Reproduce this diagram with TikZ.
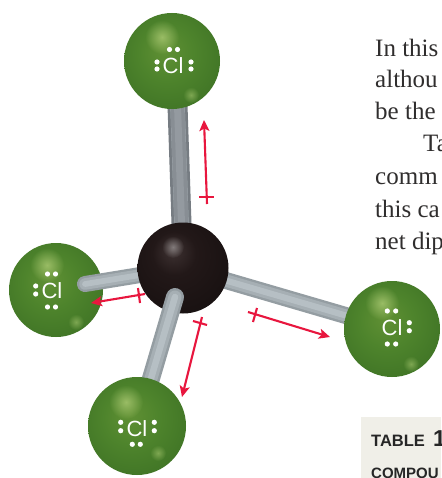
\documentclass[tikz,border=0pt]{standalone}
\usepackage{xcolor}
\usepackage{fontspec}
\setmainfont{Liberation Serif}
\newfontfamily\labelfont{Liberation Sans}
\usetikzlibrary{arrows.meta, calc, fadings}
\definecolor{dipred}{RGB}{232,22,62}
\definecolor{pagetext}{RGB}{48,46,46}
\definecolor{tablebg}{RGB}{240,239,232}
\definecolor{rodedge}{RGB}{148,157,162}
\definecolor{rodmid}{RGB}{166,175,180}
\definecolor{rodlight}{RGB}{182,191,196}
\definecolor{darkedge}{RGB}{118,124,130}
\definecolor{darkmid}{RGB}{136,142,148}
\definecolor{darklight}{RGB}{148,154,160}
\definecolor{glintgreen}{RGB}{190,216,130}
\definecolor{ballA}{RGB}{96,144,52}
\definecolor{ballB}{RGB}{78,132,44}
\definecolor{ballC}{RGB}{60,112,36}
\definecolor{ballD}{RGB}{42,86,28}
\definecolor{ballE}{RGB}{26,56,20}
\definecolor{coalA}{RGB}{62,50,50}
\definecolor{coalB}{RGB}{34,24,24}
\definecolor{coalC}{RGB}{20,14,14}
\pgfdeclareradialshading{greenball}{\pgfpoint{-4bp}{6bp}}{%
  color(0bp)=(ballA); color(14bp)=(ballB); color(35bp)=(ballC); color(45bp)=(ballD); color(54bp)=(ballE)}
\pgfdeclareradialshading{coalball}{\pgfpoint{-6bp}{10bp}}{%
  color(0bp)=(coalA); color(12bp)=(coalB); color(40bp)=(coalC); color(60bp)=(coalC)}
\tikzfading[name=softglow, inner color=transparent!35, outer color=transparent!100]

\begin{document}
\begin{tikzpicture}[
  x=1pt, y=-1pt,
  cl/.style={circle, shading=greenball, inner sep=0pt},
  carbon/.style={circle, shading=coalball, inner sep=0pt, minimum size=91},
  rod/.style={line cap=round, draw=rodedge, line width=#1,
              postaction={draw=rodmid, line width=0.72*#1},
              postaction={draw=rodlight, line width=0.36*#1}},
  rodtop/.style={draw=darkedge, line width=20,
              postaction={draw=darkmid, line width=14},
              postaction={draw=darklight, line width=7}},
  dip/.style={-{Stealth[length=11pt, width=10pt, inset=2.5pt]}, draw=dipred, line width=2.1pt},
  crossbar/.style={draw=dipred, line width=2.1pt},
  sym/.style={font=\labelfont\fontsize{22}{22}\selectfont, text=white, inner sep=0pt},
  para/.style={font=\fontsize{25}{25}\selectfont, text=pagetext, anchor=base west, inner sep=0pt},
  caption/.style={font=\labelfont\bfseries\fontsize{#1}{#1}\selectfont, text=black!85, anchor=base west, inner sep=0pt}
]
\path[use as bounding box, clip] (0,0) rectangle (441,478);
\fill[white] (0,0) rectangle (441,478);

% page text and table head
\fill[tablebg] (361,417) rectangle (441,478);
\node[para] (l1) at (375,57) {In this};
\node[para] (l2) at (375,88) {althou};
\node[para] (l3) at (375,120) {be the};
\node[para] (l4) at (423,152) {Ta};
\node[para] (l5) at (375,185) {comm};
\node[para] (l6) at (375,217) {this ca};
\node[para] (l7) at (375,249) {net dip};
\node[caption=16.5] (tab) at (371,446) {TABLE};
\node[caption=23] (tabno) at (433,446) {1};
\node[caption=15] (compou) at (371,478) {COMPOU};

% rod ends
\coordinate (cen) at (183,268);
\coordinate (ctop) at (176,61);
\coordinate (rl) at (85,284);
\coordinate (rb) at (175,297);

% atoms and rods, back to front
\node[cl, minimum size=94] (cll) at (56,290) {};
\draw[rod=16] (rl) -- (cen);
\draw[rod=20, rodtop] (ctop) -- (cen);
\node[cl, minimum size=96] (clt) at (172,61) {};
\draw[rod=17] (cen) -- (392,329);
\node[carbon] (c) at (cen) {};
\node[cl, minimum size=96] (clr) at (392,329) {};
\draw[rod=18] (rb) -- (137,426);
\node[cl, minimum size=98] (clb) at (137,426) {};

% highlights on the spheres
\foreach \gx/\gy/\gr in {162/37/17, 47/265/17, 126/402/17, 382/303/17}
  \fill[glintgreen, path fading=softglow] (\gx,\gy) circle (\gr);
\foreach \gx/\gy in {191/95, 76/322, 158/453, 411/364}
  \fill[glintgreen!70!ballB, path fading=softglow] (\gx,\gy) circle (8);
\fill[white!55!coalA, path fading=softglow] (173,247) circle (11);

% symbols
\node[sym] (tclt) at (173,66) {Cl};
\node[sym] (tcll) at (52,291) {Cl};
\node[sym] (tclb) at (137,429) {Cl};
\node[sym] (tclr) at (392,328) {Cl};
\foreach \dx/\dy in {169.5/49.5, 177.5/49.5, 157/62, 157/69, 191/62, 191/69,
                     47.5/274, 55.5/274, 35.7/286, 35.7/294, 47.5/307, 55.5/307,
                     120.7/422.3, 120.7/430.7, 154.3/422.3, 154.3/430.7, 132.3/444.3, 140.3/444.3,
                     387.3/311, 395.7/311, 409.3/322.7, 409.3/330.7, 387.3/344, 395.7/344}
  \fill[white] (\dx,\dy) circle (2.6);

% bond dipoles
\coordinate (dta) at (207,204);
\coordinate (dtb) at (204,120);
\coordinate (dtc) at (199,197);
\coordinate (dtd) at (214,197);
\draw[dip] (dta) -- (dtb);
\draw[crossbar] (dtc) -- (dtd);
\coordinate (dla) at (145,294);
\coordinate (dlb) at (91,303);
\coordinate (dlc) at (138,288);
\coordinate (dld) at (140,303);
\draw[dip] (dla) -- (dlb);
\draw[crossbar] (dlc) -- (dld);
\coordinate (dba) at (202,317);
\coordinate (dbb) at (182,397);
\coordinate (dbc) at (193,321);
\coordinate (dbd) at (207,325);
\draw[dip] (dba) -- (dbb);
\draw[crossbar] (dbc) -- (dbd);
\coordinate (dra) at (248,312);
\coordinate (drb) at (330,337);
\coordinate (drc) at (257,308);
\coordinate (drd) at (253,322);
\draw[dip] (dra) -- (drb);
\draw[crossbar] (drc) -- (drd);
\end{tikzpicture}
\end{document}
